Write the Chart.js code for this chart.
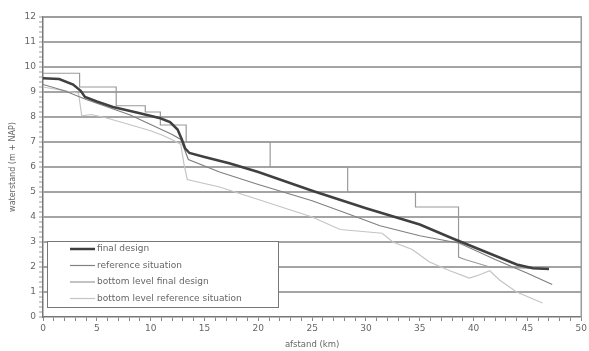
<!DOCTYPE html>
<html>
<head>
<meta charset="utf-8">
<script src="https://cdn.jsdelivr.net/npm/chart.js@4/dist/chart.umd.min.js"></script>
<style>
	html, body { margin: 0; padding: 0; background: #fff; }
	#wrap { width: 589px; height: 351px; }
</style>
</head>
<body>
<div id="wrap"><canvas id="chart" width="589" height="351"></canvas></div>
<script>
var seriesNames = ['final design', 'reference situation', 'bottom level final design', 'bottom level reference situation'];

var finalX = [0, 1.5, 2.8, 3.5, 3.9, 5, 6.5, 9, 10.9, 11.8, 12.5, 12.9, 13.2, 13.6, 15, 17.3, 20, 25, 30, 35, 38, 40, 42, 44, 45.5, 47];
var finalY = [9.55, 9.52, 9.3, 9.05, 8.8, 8.62, 8.4, 8.15, 7.95, 7.8, 7.5, 7.1, 6.75, 6.56, 6.4, 6.15, 5.8, 5.05, 4.35, 3.7, 3.15, 2.8, 2.45, 2.1, 1.95, 1.92];

var refX = [0, 2, 4, 6, 8.1, 10, 12, 12.8, 13.5, 16.4, 20, 25, 28.5, 31.3, 35, 38.7, 42, 45, 47.3];
var refY = [9.3, 9.05, 8.7, 8.4, 8.08, 7.7, 7.3, 7.1, 6.3, 5.8, 5.3, 4.65, 4.1, 3.65, 3.25, 2.95, 2.3, 1.75, 1.3];

var bottomFinalX = [0, 3.4, 3.4, 6.8, 6.8, 9.5, 9.5, 10.9, 10.9, 13.3, 13.3, 21.1, 21.1, 28.3, 28.3, 34.6, 34.6, 38.6, 38.6, 39.2, 41.5, 45, 47];
var bottomFinalY = [9.75, 9.75, 9.2, 9.2, 8.45, 8.45, 8.2, 8.2, 7.68, 7.68, 7.0, 7.0, 6.0, 6.0, 5.0, 5.0, 4.4, 4.4, 2.4, 2.3, 2.0, 1.95, 1.95];

var bottomRefX = [0, 2, 3.3, 3.6, 4.5, 6, 8, 10, 11.2, 12.2, 12.8, 13.1, 13.4, 16.4, 20, 25, 27.6, 31.5, 32.5, 34.3, 35.9, 37.8, 39.6, 40.5, 41.5, 42.4, 44, 46.4];
var bottomRefY = [9.2, 9.05, 8.95, 8.05, 8.1, 7.95, 7.7, 7.45, 7.25, 7.05, 6.9, 6.1, 5.5, 5.2, 4.7, 4.0, 3.5, 3.35, 3.0, 2.7, 2.2, 1.85, 1.56, 1.68, 1.85, 1.48, 1.0, 0.56];

function pts(xs, ys) {
	return xs.map(function (x, i) {
		return { x: x, y: ys[i] };
	});
}

function isWhole(v) {
	return Math.abs(v - Math.round(v)) < 1e-6;
}

var FONT = 'DejaVu Sans';

// box around the plot (top and right edges)
var frame = {
	id: 'frame',
	beforeDatasetsDraw: function (chart) {
		var a = chart.chartArea, ctx = chart.ctx;
		ctx.save();
		ctx.strokeStyle = '#9a9a9a';
		ctx.lineWidth = 1.5;
		ctx.beginPath();
		ctx.moveTo(a.left, a.top);
		ctx.lineTo(a.right, a.top);
		ctx.lineTo(a.right, a.bottom);
		ctx.stroke();
		ctx.restore();
	}
};

// legend box sitting inside the plot, lower left
var boxLegend = {
	id: 'boxLegend',
	afterDraw: function (chart) {
		var ctx = chart.ctx;
		ctx.save();
		ctx.fillStyle = '#fff';
		ctx.fillRect(47, 241, 231, 66);
		ctx.strokeStyle = '#777';
		ctx.lineWidth = 1;
		ctx.strokeRect(47.5, 241.5, 231, 66);
		ctx.font = '9px "' + FONT + '"';
		ctx.textBaseline = 'middle';
		chart.data.datasets.forEach(function (ds, i) {
			var y = 249 + i * 16.5;
			ctx.strokeStyle = ds.borderColor;
			ctx.lineWidth = ds.borderWidth;
			ctx.beginPath();
			ctx.moveTo(70, y);
			ctx.lineTo(95, y);
			ctx.stroke();
			ctx.fillStyle = '#666';
			ctx.fillText(ds.label, 97, y);
		});
		ctx.restore();
	}
};

var ctx = document.getElementById('chart').getContext('2d');
var myChart = new Chart(ctx, {
	type: 'line',
	data: {
		datasets: [{
			label: seriesNames[0],
			data: pts(finalX, finalY),
			borderColor: '#404040',
			borderWidth: 2.5
		}, {
			label: seriesNames[1],
			data: pts(refX, refY),
			borderColor: '#808080',
			borderWidth: 1.2
		}, {
			label: seriesNames[2],
			data: pts(bottomFinalX, bottomFinalY),
			borderColor: '#9a9a9a',
			borderWidth: 1.2
		}, {
			label: seriesNames[3],
			data: pts(bottomRefX, bottomRefY),
			borderColor: '#c4c4c4',
			borderWidth: 1.2
		}]
	},
	options: {
		responsive: false,
		animation: false,
		elements: {
			point: { radius: 0 },
			line: { tension: 0, fill: false }
		},
		layout: { padding: { left: 0, top: 17, right: 6, bottom: 0 } },
		plugins: {
			legend: { display: false },
			tooltip: { enabled: false }
		},
		scales: {
			x: {
				type: 'linear',
				min: 0,
				max: 50,
				afterFit: function (scale) { scale.height = 34; },
				ticks: {
					stepSize: 1,
					autoSkip: false,
					maxRotation: 0,
					padding: 2,
					color: '#666',
					font: { family: FONT, size: 9 },
					callback: function (v) { return v % 5 === 0 ? v : ''; }
				},
				grid: {
					drawOnChartArea: false,
					tickLength: 4,
					tickColor: '#888'
				},
				border: { color: '#777', width: 1.5 },
				title: {
					display: true,
					text: 'afstand (km)',
					color: '#666',
					font: { family: FONT, size: 8.5 },
					padding: { top: 0, bottom: 1 }
				}
			},
			y: {
				min: 0,
				max: 12,
				afterFit: function (scale) { scale.width = 43; },
				ticks: {
					stepSize: 0.2,
					autoSkip: false,
					padding: 3,
					color: '#666',
					font: { family: FONT, size: 9 },
					callback: function (v) { return isWhole(v) ? Math.round(v) : ''; }
				},
				grid: {
					color: function (c) { return isWhole(c.tick.value) && c.tick.value > 0 ? '#a4a4a4' : 'rgba(0,0,0,0)'; },
					lineWidth: 2,
					tickLength: 4,
					tickColor: '#999',
					tickWidth: 1
				},
				border: { color: '#777', width: 1.5 },
				title: {
					display: true,
					text: 'waterstand (m + NAP)',
					color: '#666',
					font: { family: FONT, size: 8 },
					padding: { top: 8, bottom: 0 }
				}
			}
		}
	},
	plugins: [frame, boxLegend]
});
</script>
</body>
</html>
